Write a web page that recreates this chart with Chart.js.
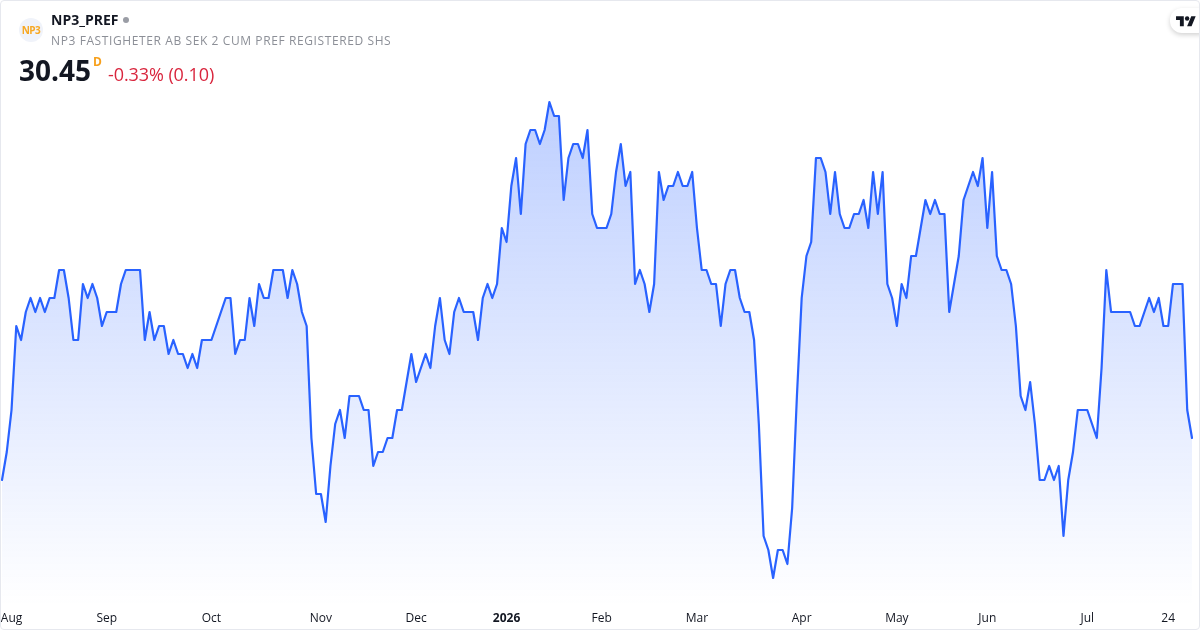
<!DOCTYPE html>
<html>
<head>
<meta charset="utf-8">
<title>NP3_PREF</title>
<script src="https://cdn.jsdelivr.net/npm/chart.js@4"></script>
<style>
    html, body { margin: 0; padding: 0; background: #fff; }
    #card {
        position: relative;
        width: 1200px;
        height: 630px;
        box-sizing: border-box;
        border: 1px solid #e6e8ee;
        border-radius: 4px;
        overflow: hidden;
        font-family: "Open Sans", sans-serif;
    }
    #priceChart { position: absolute; left: -1px; top: -1px; }
    .abs { position: absolute; white-space: nowrap; line-height: 1; }
    #logo {
        left: 18px; top: 17px; width: 24px; height: 24px;
        border-radius: 50%; background: #f0f3fa; color: #f7a823;
        font-size: 10px; font-weight: 700; text-align: center; line-height: 24px;
        letter-spacing: -0.5px;
    }
    #ticker { left: 50px; top: 12px; font-size: 14px; font-weight: 700; color: #131722; }
    #dot { left: 122px; top: 16px; width: 6px; height: 6px; border-radius: 50%; background: #9a9da5; }
    #name { left: 50px; top: 34px; font-size: 12px; color: #8c8f97; letter-spacing: 0.6px; }
    #price { left: 18px; top: 55px; font-size: 28px; font-weight: 700; color: #131722; }
    #interval { left: 92px; top: 55px; font-size: 12px; font-weight: 700; color: #f7a01c; }
    #change { left: 107px; top: 64px; font-size: 18px; color: #d9263e; letter-spacing: -0.08px; }
    #tvBadge {
        position: absolute; left: 1169px; top: 7px; width: 40px; height: 25px;
        background: #fff; border-radius: 12px; box-shadow: 0 2px 5px rgba(0,0,0,0.18);
    }
    #tvBadge svg { position: absolute; left: 6px; top: 6px; }
</style>
</head>
<body>
<div id="card">
    <canvas id="priceChart" width="1200" height="630"></canvas>
    <div class="abs" id="logo">NP3</div>
    <div class="abs" id="ticker">NP3_PREF</div>
    <div class="abs" id="dot"></div>
    <div class="abs" id="name">NP3 FASTIGHETER AB SEK 2 CUM PREF REGISTERED SHS</div>
    <div class="abs" id="price">30.45</div>
    <div class="abs" id="interval">D</div>
    <div class="abs" id="change">-0.33% (0.10)</div>
    <div id="tvBadge">
        <svg width="20" height="15.5" viewBox="0 0 36 28">
            <path fill="#131722" d="M14 22H7V11H0V4h14v18zM28 22h-8l7.5-18h8L28 22z"/>
            <circle fill="#131722" cx="20" cy="8" r="4"/>
        </svg>
    </div>
</div>
<script>
// Daily closes
const prices = [
    30.30, 30.40, 30.55, 30.85, 30.80, 30.90, 30.95, 30.90, 30.95, 30.90,
    30.95, 30.95, 31.05, 31.05, 30.95, 30.80, 30.80, 31.00, 30.95, 31.00,
    30.95, 30.85, 30.90, 30.90, 30.90, 31.00, 31.05, 31.05, 31.05, 31.05,
    30.80, 30.90, 30.80, 30.85, 30.85, 30.75, 30.80, 30.75, 30.75, 30.70,
    30.75, 30.70, 30.80, 30.80, 30.80, 30.85, 30.90, 30.95, 30.95, 30.75,
    30.80, 30.80, 30.95, 30.85, 31.00, 30.95, 30.95, 31.05, 31.05, 31.05,
    30.95, 31.05, 31.00, 30.90, 30.85, 30.45, 30.25, 30.25, 30.15, 30.35,
    30.50, 30.55, 30.45, 30.60, 30.60, 30.60, 30.55, 30.55, 30.35, 30.40,
    30.40, 30.45, 30.45, 30.55, 30.55, 30.65, 30.75, 30.65, 30.70, 30.75,
    30.70, 30.85, 30.95, 30.80, 30.75, 30.90, 30.95, 30.90, 30.90, 30.90,
    30.80, 30.95, 31.00, 30.95, 31.00, 31.20, 31.15, 31.35, 31.45, 31.25,
    31.50, 31.55, 31.55, 31.50, 31.55, 31.65, 31.60, 31.60, 31.30, 31.45,
    31.50, 31.50, 31.45, 31.55, 31.25, 31.20, 31.20, 31.20, 31.25, 31.40,
    31.50, 31.35, 31.40, 31.00, 31.05, 31.00, 30.90, 31.00, 31.40, 31.30,
    31.35, 31.35, 31.40, 31.35, 31.35, 31.40, 31.20, 31.05, 31.05, 31.00,
    31.00, 30.85, 31.00, 31.05, 31.05, 30.95, 30.90, 30.90, 30.80, 30.50,
    30.10, 30.05, 29.95, 30.05, 30.05, 30.00, 30.20, 30.60, 30.95, 31.10,
    31.15, 31.45, 31.45, 31.40, 31.25, 31.40, 31.25, 31.20, 31.20, 31.25,
    31.25, 31.30, 31.20, 31.40, 31.25, 31.40, 31.00, 30.95, 30.85, 31.00,
    30.95, 31.10, 31.10, 31.20, 31.30, 31.25, 31.30, 31.25, 31.25, 30.90,
    31.00, 31.10, 31.30, 31.35, 31.40, 31.35, 31.45, 31.20, 31.40, 31.10,
    31.05, 31.05, 31.00, 30.85, 30.60, 30.55, 30.65, 30.50, 30.30, 30.30,
    30.35, 30.30, 30.35, 30.10, 30.30, 30.40, 30.55, 30.55, 30.55, 30.50,
    30.45, 30.70, 31.05, 30.90, 30.90, 30.90, 30.90, 30.90, 30.85, 30.85,
    30.90, 30.95, 30.90, 30.95, 30.85, 30.85, 31.00, 31.00, 31.00, 30.55,
    30.45
];

// Time axis labels and the bar each one sits on
const tickNames = ['Aug', 'Sep', 'Oct', 'Nov', 'Dec', '2026', 'Feb', 'Mar', 'Apr', 'May', 'Jun', 'Jul', '24'];
const tickBars = [2, 22, 44, 67, 87, 106, 126, 146, 168, 188, 207, 228, 245];

const labels = prices.map((p, i) => {
    const at = tickBars.indexOf(i);
    return at >= 0 ? tickNames[at] : '';
});

function areaGradient(context) {
    const area = context.chart.chartArea;
    if (!area) return 'rgba(41, 98, 255, 0.15)';
    const gradient = context.chart.ctx.createLinearGradient(0, area.top, 0, area.bottom);
    gradient.addColorStop(0, 'rgba(41, 98, 255, 0.33)');
    gradient.addColorStop(1, 'rgba(41, 98, 255, 0)');
    return gradient;
}

new Chart(document.getElementById('priceChart'), {
    type: 'line',
    data: {
        labels: labels,
        datasets: [{
            label: 'NP3_PREF',
            data: prices,
            borderColor: '#2962ff',
            borderWidth: 2.2,
            backgroundColor: areaGradient,
            fill: 'start',
            tension: 0,
            pointRadius: 0,
            borderJoinStyle: 'round',
            borderCapStyle: 'round'
        }]
    },
    options: {
        responsive: false,
        animation: false,
        layout: { padding: { left: 2, right: 8, top: 60, bottom: 0 } },
        plugins: {
            legend: { display: false },
            tooltip: { enabled: false }
        },
        scales: {
            x: {
                offset: false,
                grid: { display: false },
                border: { display: false },
                afterFit: scale => {
                    scale.height = 24;
                    scale.paddingLeft = 0;
                    scale.paddingRight = 0;
                },
                ticks: {
                    autoSkip: false,
                    maxRotation: 0,
                    padding: -3,
                    color: '#131722',
                    font: ctx => ({
                        family: '"Open Sans", sans-serif',
                        size: 12,
                        weight: labels[ctx.index] === '2026' ? '700' : '400'
                    })
                }
            },
            y: {
                display: false,
                min: 29.85,
                max: 31.8
            }
        }
    }
});
</script>
</body>
</html>
